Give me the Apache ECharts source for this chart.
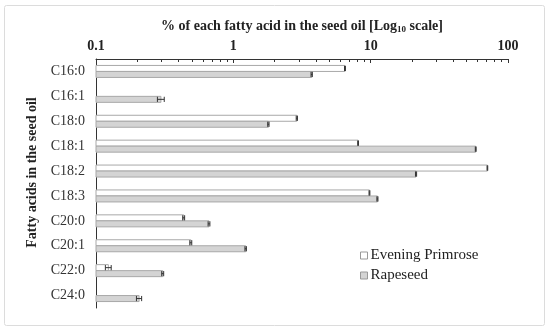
<!DOCTYPE html>
<html>
<head>
<meta charset="utf-8">
<script src="https://cdn.jsdelivr.net/npm/echarts@6/dist/echarts.min.js"></script>
<style>html,body{margin:0;padding:0;background:#fff}#c{width:550px;height:333px}</style>
</head>
<body>
<div id="c"></div>
<script>
const categories = ['C16:0','C16:1','C18:0','C18:1','C18:2','C18:3','C20:0','C20:1','C22:0','C24:0'];
const primroseValues = [6.5, null, 2.9, 8.1, 70.8, 9.8, 0.435, 0.49, 0.123, null];
const primroseErrors = [0.05, null, 0.03, 0.05, 0.4, 0.07, 0.007, 0.008, 0.006, null];
const rapeseedValues = [3.72, 0.297, 1.8, 58.2, 21.4, 11.2, 0.665, 1.23, 0.306, 0.206];
const rapeseedErrors = [0.04, 0.017, 0.02, 0.4, 0.2, 0.1, 0.01, 0.015, 0.005, 0.009];
const xTickLabels = ['0.1','1','10','100'];

const FONT = 'Liberation Serif';
const BAR_H = 6;
const AXIS_MIN = 0.1;

function mkData(vals, errs){
  const out = [];
  vals.forEach((v,i)=>{ if(v!=null) out.push([v, i, errs[i]]); });
  return out;
}
function barRenderer(sign){
  return function(params, api){
    const v = api.value(0), c = api.value(1);
    const s = api.coord([AXIS_MIN, c]);
    const e = api.coord([v, c]);
    const yc = s[1] + sign*BAR_H/2;
    return {type:'rect', shape:{x:s[0], y:yc-BAR_H/2, width:e[0]-s[0], height:BAR_H}, style:api.style()};
  };
}
function errRenderer(sign){
  return function(params, api){
    const v = api.value(0), c = api.value(1), err = api.value(2);
    const lo = api.coord([v-err, c]), hi = api.coord([v+err, c]);
    const yc = lo[1] + sign*BAR_H/2;
    const st = {stroke:'#333', lineWidth:1};
    const h = 2.6;
    return {type:'group', children:[
      {type:'line', shape:{x1:lo[0], y1:yc, x2:hi[0], y2:yc}, style:st},
      {type:'line', shape:{x1:lo[0], y1:yc-h, x2:lo[0], y2:yc+h}, style:st},
      {type:'line', shape:{x1:hi[0], y1:yc-h, x2:hi[0], y2:yc+h}, style:st}
    ]};
  };
}

const chart = echarts.init(document.getElementById('c'), null, {renderer:'canvas'});
chart.setOption({
  animation:false,
  backgroundColor:'#fff',
  graphic:[{type:'rect', shape:{x:4.5, y:5.5, width:540, height:320, r:2}, style:{fill:'none', stroke:'#dcdcdc', lineWidth:1}, z:-1}],
  grid:{left:96, right:42, top:59, bottom:25, containLabel:false},
  legend:{
    orient:'vertical', left:355, top:243, itemGap:5, itemWidth:7, itemHeight:7,
    textStyle:{fontFamily:FONT, fontSize:15, color:'#222', padding:[0,0,0,-2]},
    data:[
      {name:'Evening Primrose', icon:'rect', itemStyle:{color:'#fff', borderColor:'#999', borderWidth:1}},
      {name:'Rapeseed', icon:'rect', itemStyle:{color:'#d4d4d4', borderColor:'#999', borderWidth:1}}
    ]
  },
  xAxis:{
    type:'log', position:'top', min:0.1, max:100, logBase:10,
    name:'{t|% of each fatty acid in the seed oil [Log}{s|10}{t| scale]}',
    nameLocation:'middle', nameGap:21,
    nameTextStyle:{rich:{
      t:{fontFamily:FONT, fontSize:14, fontWeight:'bold', color:'#222'},
      s:{fontFamily:FONT, fontSize:9, fontWeight:'bold', color:'#222', verticalAlign:'bottom', padding:[6,0,0,0]}
    }},
    axisLine:{show:true, lineStyle:{color:'#333', width:1}},
    axisTick:{show:true, inside:true, length:4, lineStyle:{color:'#333'}},
    minorTick:{show:true, splitNumber:9, length:3, lineStyle:{color:'#333'}},
    splitLine:{show:false},
    minorSplitLine:{show:false},
    axisLabel:{fontFamily:FONT, fontSize:14, fontWeight:'bold', color:'#222', margin:6,
      formatter:function(v){ const i=Math.round(Math.log10(v))+1; return xTickLabels[i]!=null?xTickLabels[i]:''; }}
  },
  yAxis:{
    type:'category', data:categories, inverse:true, boundaryGap:true,
    name:'Fatty acids in the seed oil', nameLocation:'middle', nameGap:57, nameRotate:90,
    nameTextStyle:{fontFamily:FONT, fontSize:14, fontWeight:'bold', color:'#222', padding:[0,0,0,22]},
    axisLine:{show:true, lineStyle:{color:'#333', width:1}},
    axisTick:{show:false},
    splitLine:{show:false},
    axisLabel:{fontFamily:FONT, fontSize:14, color:'#333', margin:11}
  },
  series:[
    {name:'Evening Primrose', type:'custom', renderItem:barRenderer(-1), encode:{x:0, y:1},
     data:mkData(primroseValues, primroseErrors), itemStyle:{color:'#fff', borderColor:'#a8a8a8', borderWidth:1}, z:2},
    {name:'Rapeseed', type:'custom', renderItem:barRenderer(1), encode:{x:0, y:1},
     data:mkData(rapeseedValues, rapeseedErrors), itemStyle:{color:'#d4d4d4', borderColor:'#a8a8a8', borderWidth:1}, z:2},
    {name:'pErr', type:'custom', renderItem:errRenderer(-1), encode:{x:0, y:1},
     data:mkData(primroseValues, primroseErrors), z:3, silent:true},
    {name:'rErr', type:'custom', renderItem:errRenderer(1), encode:{x:0, y:1},
     data:mkData(rapeseedValues, rapeseedErrors), z:3, silent:true}
  ]
});
</script>
</body>
</html>
